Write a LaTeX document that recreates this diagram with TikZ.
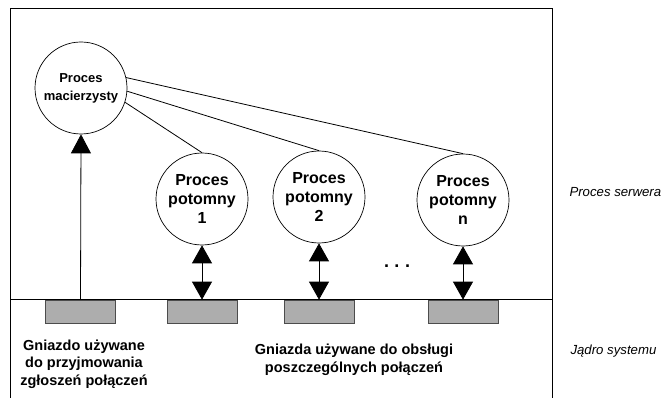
\documentclass[tikz,border=0pt]{standalone}
\usepackage{fontspec}
\setmainfont{Liberation Sans}
\usetikzlibrary{arrows.meta}
\tikzset{
  proc/.style={circle,draw,line width=0.7pt,minimum size=92pt,inner sep=0pt,align=center,font=\bfseries\fontsize{16}{19}\selectfont},
  parentproc/.style={proc,font=\bfseries\fontsize{13}{18}\selectfont},
  sock/.style={rectangle,draw=black!70,fill=black!32,line width=0.7pt,minimum width=70pt,minimum height=23pt,inner sep=0pt},
  conn/.style={line width=0.8pt},
  bigtip/.style={line width=0.8pt,-{Triangle[width=20pt,length=19pt]}},
  dbltip/.style={line width=0.8pt,{Triangle[width=20pt,length=18pt]}-{Triangle[width=20pt,length=18pt]}},
  lbl/.style={align=center,font=\bfseries\fontsize{14.5}{17.5}\selectfont},
  side/.style={anchor=west,font=\itshape\fontsize{13.2}{15}\selectfont}
}
\begin{document}
\begin{tikzpicture}[x=1pt,y=-1pt]
\useasboundingbox (0,0) rectangle (669,398);
\draw[line width=0.8pt] (10,398) -- (10,8) -- (552,8) -- (552,398);
\draw[line width=0.8pt] (10,299) -- (552,299);

\node[parentproc] (p) at (81,88) {Proces\\macierzysty};
\node[proc] (c1) at (202,199) {Proces\\potomny\\1};
\node[proc] (c2) at (319,197) {Proces\\potomny\\2};
\node[proc] (cn) at (463,200) {Proces\\potomny\\n};

\node[sock] (s0) at (80.5,311.5) {};
\node[sock] (s1) at (202,311.5) {};
\node[sock] (s2) at (319,311.5) {};
\node[sock] (sn) at (463,311.5) {};

\draw[conn] (p.-18) -- (c1.north);
\draw[conn] (p.-4) -- (c2.north);
\draw[conn] (p.13) -- (cn.north);

\draw[bigtip] (s0.north) -- (p.south);
\draw[dbltip] (c1.south) -- (s1.north);
\draw[dbltip] (c2.south) -- (s2.north);
\draw[dbltip] (cn.south) -- (sn.north);

\node[font=\bfseries\fontsize{18}{18}\selectfont] (dots) at (397,266) {.\hspace{5.5pt}.\hspace{5.5pt}.};

\node[lbl] (l0) at (84,364) {Gniazdo używane\\do przyjmowania\\zgłoszeń połączeń};
\node[lbl] (l1) at (354,360) {Gniazda używane do obsługi\\poszczególnych połączeń};

\node[side] (ps) at (566,192) {Proces serwera};
\node[side] (js) at (567,351) {Jądro systemu};
\end{tikzpicture}
\end{document}
